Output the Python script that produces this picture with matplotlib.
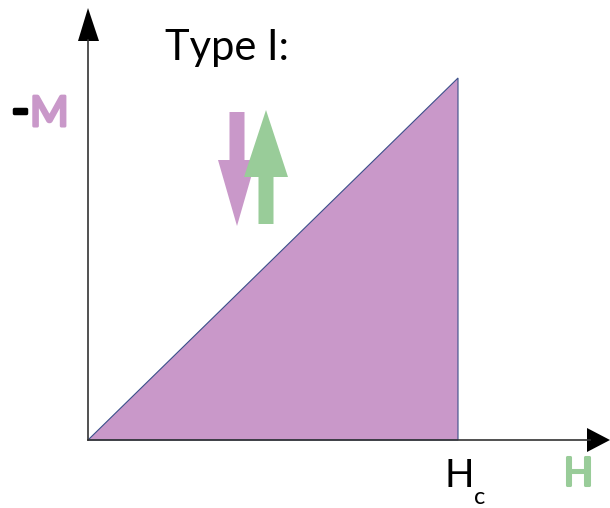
import matplotlib
matplotlib.use("Agg")
import matplotlib.pyplot as plt
from matplotlib.patches import Polygon
import matplotlib.patheffects as pe

# data: the region under -M = H up to Hc (normalised)
H_vals = [0.0, 1.0, 1.0]
M_vals = [0.0, 1.0, 0.0]
purple = "#c998c9"
green = "#99cc99"

W, Hpx = 610, 508
fig = plt.figure(figsize=(W / 100, Hpx / 100), dpi=100)
x0, y0 = 88, 440      # origin in pixels (from top)
x1, y1 = 458, 78      # Hc, M=1
ax = fig.add_axes([x0 / W, (Hpx - y0) / Hpx, (x1 - x0) / W, (y0 - y1) / Hpx])
ax.set_xlim(0, 1)
ax.set_ylim(0, 1)
ax.axis("off")

sx = 1 / (x1 - x0)
sy = 1 / (y0 - y1)
def P(px, py):
    return ((px - x0) * sx, (y0 - py) * sy)

# filled triangle
poly = Polygon(list(zip(H_vals, M_vals)), closed=True, facecolor=purple,
               edgecolor="#3b4f8a", linewidth=0.8, clip_on=False)
ax.add_patch(poly)

# axes lines with arrowheads
xa, ya = P(88, 440)
ax.plot([xa, P(590, 440)[0]], [ya, ya], color="#333333", lw=1.2, clip_on=False)
ax.plot([xa, xa], [ya, P(88, 40)[1]], color="#333333", lw=1.2, clip_on=False)
ax.add_patch(Polygon([P(587, 428), P(610, 440), P(587, 452)], closed=True,
                     facecolor="black", edgecolor="none", clip_on=False))
ax.add_patch(Polygon([P(78, 41), P(88, 8), P(99, 41)], closed=True,
                     facecolor="black", edgecolor="none", clip_on=False))

# magnetisation arrows
def arrow(tip, base_y, shaft_end_y, shaft_half, head_half, cx, color):
    pts = [P(cx - shaft_half, shaft_end_y), P(cx + shaft_half, shaft_end_y),
           P(cx + shaft_half, base_y), P(cx + head_half, base_y), P(cx, tip),
           P(cx - head_half, base_y), P(cx - shaft_half, base_y)]
    ax.add_patch(Polygon(pts, closed=True, facecolor=color, edgecolor="none",
                         clip_on=False))

arrow(226, 160, 112, 7.5, 19, 237, purple)
arrow(110, 177, 224, 7.5, 22, 266, green)

# texts
def T(px, py, s, bold=0.0, **kw):
    t = ax.text(*P(px, py), s, transform=ax.transData, family="Lato", **kw)
    if bold:
        t.set_path_effects([pe.withStroke(linewidth=bold, foreground=kw.get("color", "black"))])
    return t

T(165, 48, "Type I:", fontsize=30, color="black", va="center", ha="left")
T(11, 112, "-", fontsize=36, color="black", va="center", ha="left", bold=2.5)
T(30, 114, "M", fontsize=30, color=purple, va="center", ha="left", bold=2.2)
T(563, 474, "H", fontsize=28, color=green, va="center", ha="left", bold=2.2)
T(444, 476, "H", fontsize=28, color="black", va="center", ha="left")
T(474, 498, "c", fontsize=17, color="black", va="center", ha="left")

fig.savefig("out.png", dpi=100)
